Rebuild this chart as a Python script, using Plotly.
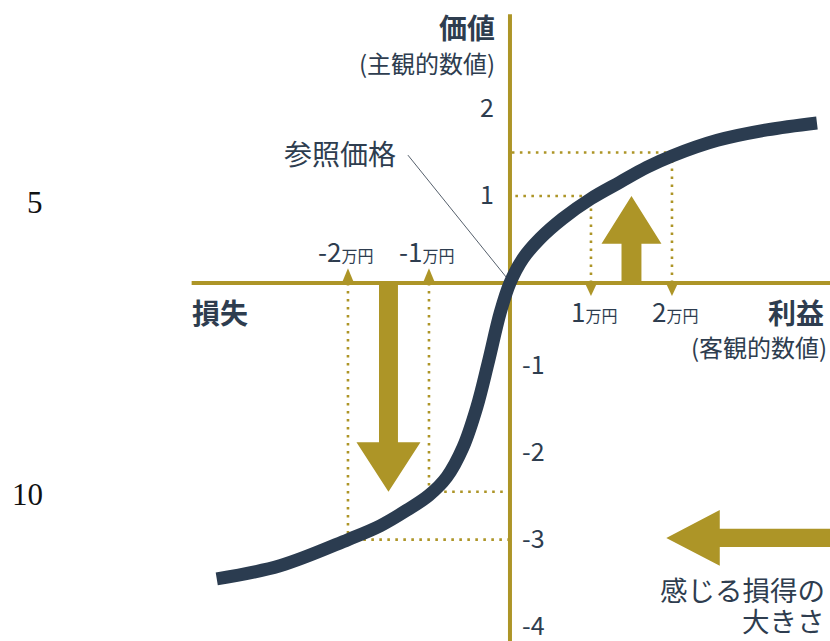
import plotly.graph_objects as go

# ---------------- data ----------------
# value function (objective amount in 万円 -> subjective value)
curve_x = [-3.62, -2.84, -2.0, -1.6, -1.27, -1.0, -0.78, -0.58, -0.41, -0.27, -0.12, 0.0,
           0.16, 0.37, 0.65, 1.0, 1.36, 1.69, 2.0, 2.56, 3.17, 3.79]
curve_y = [-3.40, -3.25, -2.95, -2.79, -2.61, -2.44, -2.23, -1.89, -1.43, -0.92, -0.34, 0.0,
           0.28, 0.51, 0.74, 0.97, 1.16, 1.33, 1.46, 1.64, 1.76, 1.84]

# reference points (gain / loss of 1万円 and 2万円)
gain_x = [1, 2]
gain_v = [1.0, 1.5]
loss_x = [-1, -2]
loss_v = [-2.4, -2.95]

y_tick_vals = [2, 1, -1, -2, -3, -4]
y_tick_text = ["2", "1", "-1", "-2", "-3", "-4"]
x_tick_vals = [-2, -1, 1, 2]
x_tick_num = ["-2", "-1", "1", "2"]
x_unit = "万円"

GOLD = "#ad9527"
NAVY = "#2b3c50"
TXT = "#2e3d4f"
FONT = "Noto Sans CJK JP"

W, H = 830, 641
X_RANGE = [-6.296, 3.951]
Y_RANGE = [-4.115, 3.253]

fig = go.Figure()

# dotted guide lines
for xs, vs in ((gain_x, gain_v), (loss_x, loss_v)):
    for xv, vv in zip(xs, vs):
        fig.add_trace(go.Scatter(
            x=[xv, xv, 0], y=[0, vv, vv], mode="lines",
            line=dict(color=GOLD, width=2.6, dash="2.6px,5.4px"),
            hoverinfo="skip", showlegend=False))

# value curve
fig.add_trace(go.Scatter(
    x=curve_x, y=curve_y, mode="lines",
    line=dict(color=NAVY, width=13, shape="spline", smoothing=1.0),
    hoverinfo="skip", showlegend=False))

shapes = []
# axes
shapes.append(dict(type="line", xref="x", yref="y", x0=-3.93, x1=X_RANGE[1], y0=0, y1=0,
                   line=dict(color=GOLD, width=4), layer="below"))
shapes.append(dict(type="line", xref="x", yref="y", x0=0, x1=0, y0=3.09, y1=Y_RANGE[0],
                   line=dict(color=GOLD, width=4), layer="below"))

# small tick triangles
for xv in x_tick_vals:
    tip = 0.17 if xv < 0 else -0.15
    shapes.append(dict(type="path", xref="x", yref="y",
                       path=f"M {xv-0.075},0 L {xv},{tip} L {xv+0.075},0 Z",
                       fillcolor=GOLD, line=dict(width=0), layer="below"))


def v_arrow(xc, y0, y1, sw, hw, hb):
    return (f"M {xc-sw},{y0} L {xc-sw},{hb} L {xc-hw},{hb} L {xc},{y1} "
            f"L {xc+hw},{hb} L {xc+sw},{hb} L {xc+sw},{y0} Z")


# up arrow (gain of 1万円 -> value), down arrow (loss of 1万円 -> value)
shapes.append(dict(type="path", xref="x", yref="y",
                   path=v_arrow(1.5, 0, gain_v[0], 0.123, 0.37, 0.45),
                   fillcolor=GOLD, line=dict(width=0), layer="below"))
shapes.append(dict(type="path", xref="x", yref="y",
                   path=v_arrow(-1.5, 0, loss_v[0], 0.117, 0.395, -1.83),
                   fillcolor=GOLD, line=dict(width=0), layer="below"))
# left arrow
yc = -2.93
shapes.append(dict(type="path", xref="x", yref="y",
                   path=(f"M 3.97,{yc-0.105} L 2.59,{yc-0.105} L 2.59,{yc-0.32} L 1.93,{yc} "
                         f"L 2.59,{yc+0.32} L 2.59,{yc+0.105} L 3.97,{yc+0.105} Z"),
                   fillcolor=GOLD, line=dict(width=0), layer="below"))
# leader line for 参照価格
shapes.append(dict(type="line", xref="x", yref="y", x0=-1.26, y0=1.47, x1=-0.04, y1=0.06,
                   line=dict(color="#56606c", width=1), layer="below"))

ann = []


def add_text(text, x, y, size, xanchor="center", bold=False, yshift=0, xshift=0, color=TXT,
             family=FONT, xref="x", yref="y"):
    if bold:
        text = f"<b>{text}</b>"
    ann.append(dict(text=text, x=x, y=y, xref=xref, yref=yref, showarrow=False,
                    xanchor=xanchor, yanchor="middle", yshift=yshift, xshift=xshift,
                    font=dict(family=family, size=size, color=color)))


# y tick labels
for v, t in zip(y_tick_vals, y_tick_text):
    if v > 0:
        add_text(t, -0.17, v, 25, xanchor="right", yshift=3)
    else:
        add_text(t, 0.12, v, 25, xanchor="left", yshift=7)

# x tick labels
for v, t in zip(x_tick_vals, x_tick_num):
    lab = f"{t}<span style='font-size:16px'>{x_unit}</span>"
    if v < 0:
        add_text(lab, v, 0.33, 26, xshift=-2, yshift=4)
    else:
        add_text(lab, v, -0.345, 26, xshift=3, yshift=3)

add_text("価値", -0.16, 2.94, 28, xanchor="right", bold=True)
add_text("(主観的数値)", -0.16, 2.53, 24, xanchor="right")
add_text("参照価格", -1.38, 1.49, 28, xanchor="right")
add_text("損失", -3.95, -0.333, 28, xanchor="left", bold=True)
add_text("利益", 3.9, -0.333, 28, xanchor="right", bold=True)
add_text("(客観的数値)", 3.94, -0.73, 24, xanchor="right")
add_text("感じる損得の", 3.92, -3.52, 27.5, xanchor="right")
add_text("大きさ", 3.92, -3.87, 27.5, xanchor="right")

# page line numbers (outside the chart)
add_text("5", 35 / W, 1 - 202 / H, 31, family="Liberation Serif", color="#111111",
         xref="paper", yref="paper")
add_text("10", 27 / W, 1 - 494 / H, 31, family="Liberation Serif", color="#111111",
         xref="paper", yref="paper")

fig.update_layout(
    width=W, height=H,
    margin=dict(l=0, r=0, t=0, b=0),
    paper_bgcolor="white", plot_bgcolor="white",
    xaxis=dict(range=X_RANGE, visible=False, fixedrange=True),
    yaxis=dict(range=Y_RANGE, visible=False, fixedrange=True),
    shapes=shapes, annotations=ann, showlegend=False,
)

fig.write_html(
    "out.html",
    config={"displayModeBar": False},
    post_script=("document.body.style.margin='0';"
                 "document.documentElement.style.overflow='hidden';"
                 "document.body.style.overflow='hidden';"),
)
